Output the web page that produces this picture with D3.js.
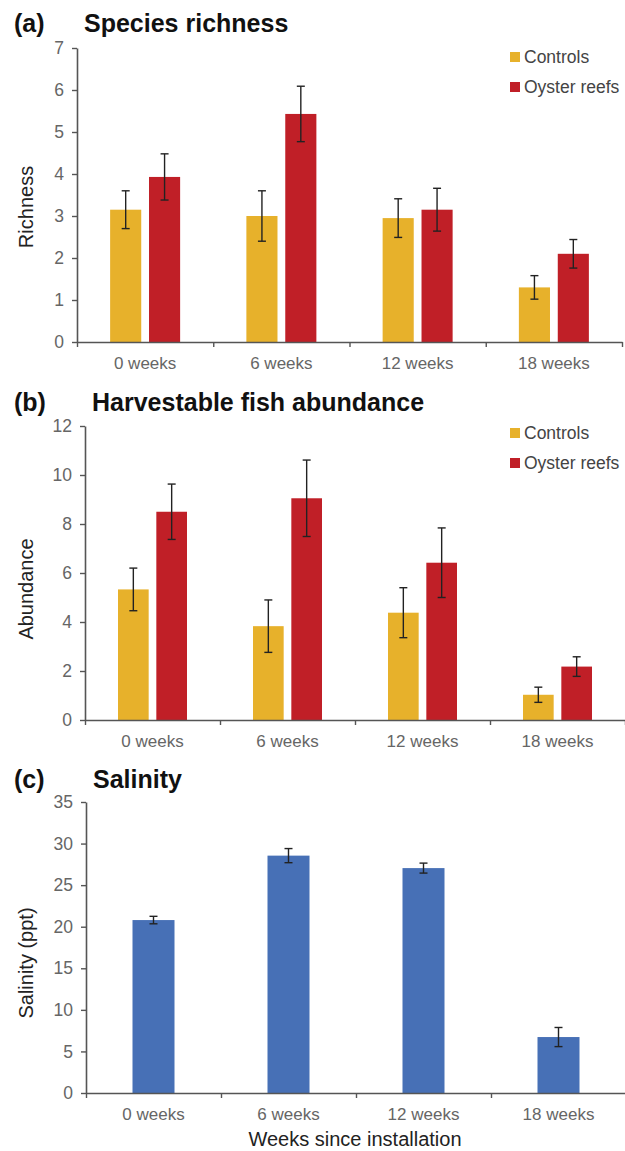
<!DOCTYPE html>
<html>
<head>
<meta charset="utf-8">
<script src="https://cdn.jsdelivr.net/npm/d3@7"></script>
<style>
  body { margin: 0; background: #fff; }
  svg { display: block; font-family: "Liberation Sans", Arial, sans-serif; }
</style>
</head>
<body>
<div id="chart"></div>
<script>
// Werte (Mittelwert und Fehlerbalken)
const weeks = ["0 weeks", "6 weeks", "12 weeks", "18 weeks"];
const series = ["Controls", "Oyster reefs"];

const richControls = [3.15, 3.0, 2.95, 1.3];
const richControlsErr = [0.45, 0.6, 0.46, 0.28];
const richReefs = [3.93, 5.43, 3.15, 2.1];
const richReefsErr = [0.55, 0.66, 0.51, 0.34];

const fishControls = [5.33, 3.83, 4.38, 1.03];
const fishControlsErr = [0.87, 1.07, 1.02, 0.31];
const fishReefs = [8.5, 9.05, 6.42, 2.18];
const fishReefsErr = [1.13, 1.56, 1.42, 0.4];

const salinity = [20.8, 28.55, 27.05, 6.73];
const salinityErr = [0.45, 0.85, 0.6, 1.15];

const richTicks = [0, 1, 2, 3, 4, 5, 6, 7];
const fishTicks = [0, 2, 4, 6, 8, 10, 12];
const salTicks = [0, 5, 10, 15, 20, 25, 30, 35];

const colors = { "Controls": "#e7b12b", "Oyster reefs": "#c01f27", "Salinity": "#4770b6" };

const width = 625, height = 1151;
const svg = d3.select("#chart").append("svg")
    .attr("width", width)
    .attr("height", height);

function toRows(means, errs) {
    return weeks.map((w, i) => ({ week: w, mean: means[i], err: errs[i] }));
}

// Ein Panel zeichnen
function drawPanel(p) {
    const g = svg.append("g");

    const x0 = d3.scaleBand().domain(weeks).range([p.left, p.right]);
    const y = d3.scaleLinear().domain([0, d3.max(p.ticks)]).range([p.bottom, p.top]);

    const x1 = d3.scaleBand()
        .domain(p.groups.map(d => d.name))
        .range([-p.groupWidth / 2, p.groupWidth / 2])
        .paddingInner(p.inner);

    // Titel
    g.append("text").attr("x", 14).attr("y", p.titleY)
        .attr("font-size", 25).attr("font-weight", "bold").attr("fill", "#111")
        .text(p.letter);
    g.append("text").attr("x", p.left + 7).attr("y", p.titleY)
        .attr("font-size", 25).attr("font-weight", "bold").attr("fill", "#111")
        .text(p.title);

    // Balken
    p.groups.forEach(s => {
        const rows = toRows(s.values, s.errors);
        const bx = d => x0(d.week) + x0.bandwidth() / 2 + x1(s.name);

        g.append("g").selectAll("rect").data(rows).join("rect")
            .attr("x", bx)
            .attr("y", d => y(d.mean))
            .attr("width", x1.bandwidth())
            .attr("height", d => y(0) - y(d.mean))
            .attr("fill", colors[s.name]);

        // Fehlerbalken
        const eb = g.append("g").attr("stroke", "#222").attr("stroke-width", 1.4);
        const cx = d => bx(d) + x1.bandwidth() / 2;
        eb.selectAll(".v").data(rows).join("line")
            .attr("x1", cx).attr("x2", cx)
            .attr("y1", d => y(d.mean + d.err)).attr("y2", d => y(d.mean - d.err));
        eb.selectAll(".t").data(rows).join("line")
            .attr("x1", d => cx(d) - 4).attr("x2", d => cx(d) + 4)
            .attr("y1", d => y(d.mean + d.err)).attr("y2", d => y(d.mean + d.err));
        eb.selectAll(".b").data(rows).join("line")
            .attr("x1", d => cx(d) - 4).attr("x2", d => cx(d) + 4)
            .attr("y1", d => y(d.mean - d.err)).attr("y2", d => y(d.mean - d.err));
    });

    // y-Achse
    const yAxis = g.append("g")
        .attr("transform", `translate(${p.left},0)`)
        .call(d3.axisLeft(y).tickValues(p.ticks).tickFormat(d3.format("d"))
            .tickSize(5).tickPadding(8).tickSizeOuter(0));
    yAxis.select(".domain").attr("stroke", "#555").attr("stroke-width", 1.6);
    yAxis.selectAll(".tick line").attr("stroke", "#555").attr("stroke-width", 1.4);
    yAxis.selectAll(".tick text").attr("font-size", 17.5).attr("fill", "#666").attr("font-family", null);

    // x-Achse: Striche an den Kategoriegrenzen, Beschriftung in der Mitte
    const xb = d3.scaleLinear().domain([0, weeks.length]).range([p.left, p.right]);
    const xAxis = g.append("g")
        .attr("transform", `translate(0,${p.bottom})`)
        .call(d3.axisBottom(xb).ticks(weeks.length).tickSize(5).tickFormat("").tickSizeOuter(0));
    xAxis.select(".domain").attr("stroke", "#555").attr("stroke-width", 1.6);
    xAxis.selectAll(".tick line").attr("stroke", "#555").attr("stroke-width", 1.4);

    const xLab = g.append("g")
        .attr("transform", `translate(0,${p.bottom})`)
        .call(d3.axisBottom(x0).tickSize(0));
    xLab.select(".domain").remove();
    xLab.selectAll(".tick text")
        .attr("y", 27).attr("dy", 0)
        .attr("font-size", 17).attr("fill", "#666").attr("font-family", null);

    // y-Achsentitel
    g.append("text")
        .attr("transform", `translate(33,${p.yTitleY}) rotate(-90)`)
        .attr("text-anchor", "middle")
        .attr("font-size", 20).attr("fill", "#222")
        .text(p.yTitle);

    // Legende
    if (p.legendY) {
        p.groups.forEach((s, i) => {
            const ly = p.legendY + i * 30;
            g.append("rect").attr("x", 510).attr("y", ly - 5).attr("width", 10).attr("height", 10)
                .attr("fill", colors[s.name]);
            g.append("text").attr("x", 524).attr("y", ly + 6)
                .attr("font-size", 17.5).attr("fill", "#444")
                .text(s.name);
        });
    }
}

drawPanel({
    letter: "(a)", title: "Species richness", titleY: 32,
    left: 77, right: 622, top: 48, bottom: 342,
    ticks: richTicks, yTitle: "Richness", yTitleY: 207,
    groupWidth: 70, inner: 0.2, legendY: 57,
    groups: [
        { name: "Controls", values: richControls, errors: richControlsErr },
        { name: "Oyster reefs", values: richReefs, errors: richReefsErr }
    ]
});

drawPanel({
    letter: "(b)", title: "Harvestable fish abundance", titleY: 411,
    left: 85, right: 625, top: 426, bottom: 720,
    ticks: fishTicks, yTitle: "Abundance", yTitleY: 589,
    groupWidth: 69, inner: 0.2, legendY: 433,
    groups: [
        { name: "Controls", values: fishControls, errors: fishControlsErr },
        { name: "Oyster reefs", values: fishReefs, errors: fishReefsErr }
    ]
});

drawPanel({
    letter: "(c)", title: "Salinity", titleY: 788,
    left: 86, right: 626, top: 802, bottom: 1093,
    ticks: salTicks, yTitle: "Salinity (ppt)", yTitleY: 963,
    groupWidth: 42, inner: 0, legendY: null,
    groups: [
        { name: "Salinity", values: salinity, errors: salinityErr }
    ]
});

// x-Achsentitel unten
svg.append("text")
    .attr("x", 355).attr("y", 1146)
    .attr("text-anchor", "middle")
    .attr("font-size", 20).attr("fill", "#222")
    .text("Weeks since installation");
</script>
</body>
</html>
